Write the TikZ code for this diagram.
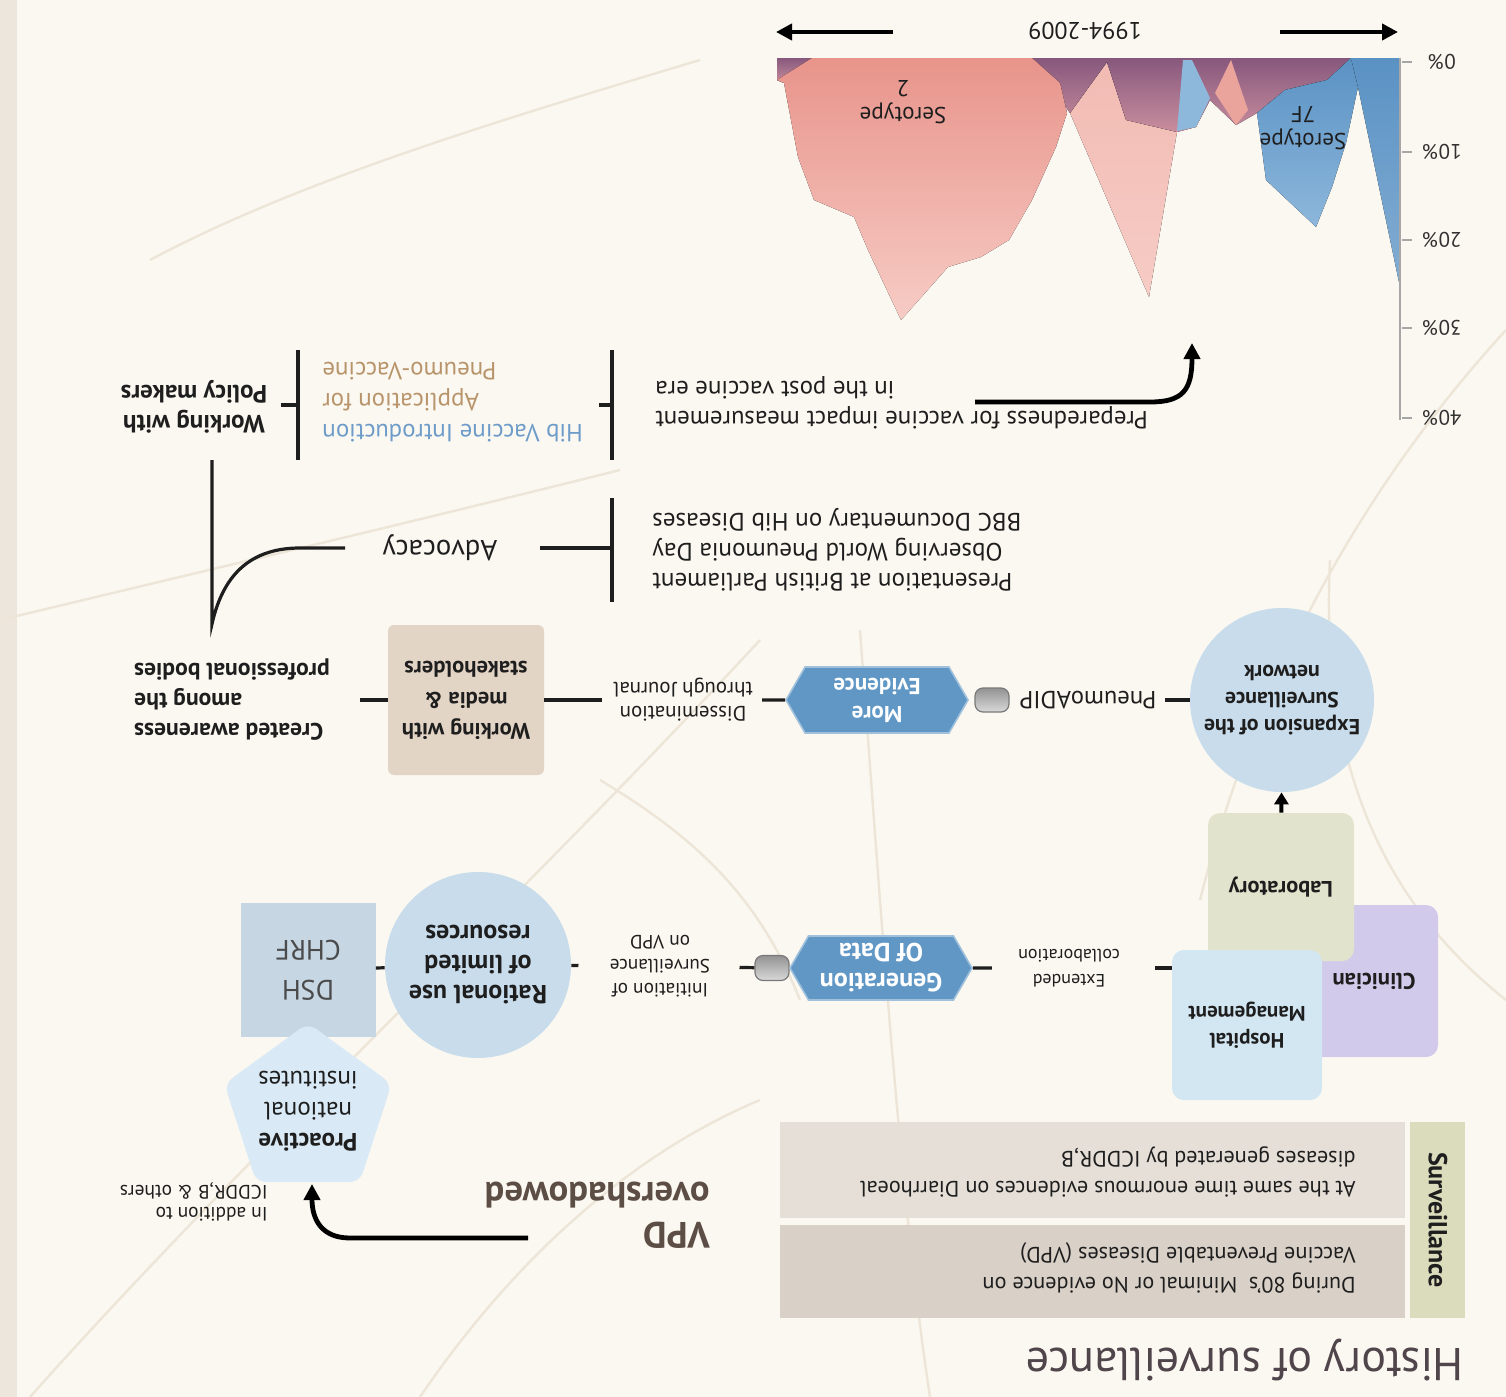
\documentclass[tikz,border=0pt]{standalone}
\usepackage{fontspec}
\setmainfont{PT Sans}
\usetikzlibrary{shapes.geometric,shapes.symbols,arrows.meta}
\definecolor{bgc}{HTML}{FBF8F1}
\definecolor{stripc}{HTML}{ECE6DC}
\definecolor{curvec}{HTML}{EDE6D8}
\definecolor{graybox1}{HTML}{E5DFD7}
\definecolor{graybox2}{HTML}{D9D1C8}
\definecolor{survc}{HTML}{DBDCBC}
\definecolor{titlec}{HTML}{4F454B}
\definecolor{vpdc}{HTML}{5C4D45}
\definecolor{pentc}{HTML}{D9EAF6}
\definecolor{dshc}{HTML}{C6D6E3}
\definecolor{circc}{HTML}{C8DCEB}
\definecolor{hexc}{HTML}{6097C5}
\definecolor{hospc}{HTML}{D3E7F3}
\definecolor{clinc}{HTML}{D2CAEA}
\definecolor{labc}{HTML}{E2E3CC}
\definecolor{mediac}{HTML}{E3D5C6}
\definecolor{hibc}{HTML}{6E9CC9}
\definecolor{pnc}{HTML}{B8946B}
\definecolor{pinkdark}{HTML}{E8948B}
\definecolor{pinklight}{HTML}{F6CCC5}
\definecolor{purp}{HTML}{87587D}
\definecolor{mauve}{HTML}{C98E9E}
\definecolor{bluedark}{HTML}{5A92C4}
\definecolor{bluelight}{HTML}{8DB7DB}
\definecolor{inkc}{HTML}{1E1E1E}
\newcommand\myfs[2]{\fontsize{#1}{#2}\selectfont}
\begin{document}
\begin{tikzpicture}[x=0.5pt,y=-0.5pt,
  u/.style={rotate=180},
  lbl/.style={u,inner sep=1pt,text=inkc},
  conn/.style={line width=1.6pt,draw=inkc},
  bar/.style={line width=2pt,draw=inkc},
  sqbox/.style={u,rectangle,rounded corners=6pt,inner sep=2pt,text=inkc,font=\bfseries\myfs{10.5}{13.5}},
  hexbox/.style={u,signal,signal to=east and west,signal pointer angle=120,fill=hexc,draw=hexc!60!white,line width=0.8pt,
     minimum width=91pt,minimum height=32pt,inner sep=0pt,text=white,align=center},
  capsule/.style={u,rectangle,rounded corners=4pt,minimum width=17pt,minimum height=12.5pt,inner sep=0pt,
     top color=gray!85,bottom color=gray!30,draw=gray!95!black,line width=0.6pt},
  circbox/.style={u,circle,fill=circc,inner sep=1pt,text=inkc},
  tick/.style={line width=0.6pt,draw=gray!70}
]
\useasboundingbox (0,0) rectangle (1506,1397);
\fill[bgc] (0,0) rectangle (1506,1397);
\fill[stripc] (0,0) rectangle (17,1397);
% faint background curves
\begin{scope}[curvec,line width=1.2pt]
\draw (30,1397) .. controls (250,1150) and (520,900) .. (760,640);
\draw (860,630) .. controls (880,900) and (900,1200) .. (930,1397);
\draw (0,620) .. controls (250,560) and (420,520) .. (620,470);
\draw (1506,330) .. controls (1350,500) and (1250,700) .. (1200,900);
\draw (1506,1000) .. controls (1380,900) and (1320,760) .. (1330,560);
\draw (420,1397) .. controls (520,1250) and (640,1150) .. (760,1100);
\draw (150,260) .. controls (300,180) and (500,120) .. (700,60);
\draw (600,780) .. controls (700,840) and (760,900) .. (800,1000);
\end{scope}

% ================= chart =================
\fill[top color=purp,bottom color=mauve] (777,58) -- (812,58) -- (784,83) -- (777,80) -- cycle;
\fill[top color=pinklight!70!pinkdark,bottom color=pinklight] (1070,113) -- (1107,62) -- (1126,120) -- (1177,132) -- (1149,297) -- cycle;
\fill[top color=purp,bottom color=mauve] (1032,58) -- (1351,58) -- (1327,80) -- (1285,90) -- (1257,113) -- (1236,125) -- (1210,100) -- (1196,127) -- (1177,132) -- (1126,120) -- (1107,62) -- (1070,113) -- cycle;
\fill[top color=pinkdark,bottom color=pinklight] (777,80) -- (784,83) -- (798,157) -- (814,200) -- (854,217) -- (868,250) -- (901,320) -- (925,293) -- (948,267) -- (981,257) -- (1009,240) -- (1032,200) -- (1056,147) -- (1067,113) -- (1060,83) -- (1032,58) -- (812,58) -- cycle;
\fill[bluelight] (1183,60) -- (1192,60) -- (1210,98) -- (1196,127) -- (1177,131) -- cycle;
\fill[pinkdark!85!white] (1215,93) -- (1231,60) -- (1248,110) -- (1236,125) -- cycle;
\fill[top color=bluedark,bottom color=bluelight] (1351,58) -- (1358,87) -- (1346,143) -- (1332,187) -- (1316,227) -- (1266,180) -- (1257,113) -- (1285,90) -- (1327,80) -- cycle;
\fill[top color=bluedark,bottom color=bluedark!75!white] (1351,58) -- (1400,58) -- (1400,287) -- (1358,87) -- cycle;
\draw[tick] (1400,58) -- (1400,420);
\foreach \yy/\tt in {62/0,152/10,240/20,328/30,418/40}{
  \draw[tick] (1402,\yy) -- (1412,\yy);
  \node[lbl,font=\myfs{10.5}{12},text=gray!20!inkc] (pct\tt) at (1442,\yy) {\tt\%};
}
\node[lbl,font=\myfs{11.5}{13.5},align=center] (sero2) at (903,102) {Serotype\\2};
\node[lbl,font=\myfs{11.5}{13.5},align=center] (sero7) at (1303,128) {Serotype\\7F};
\node[lbl,font=\myfs{12}{14}] (years) at (1085,31) {1994-2009};
\coordinate (arLs) at (893,32); \coordinate (arLe) at (776,32);
\coordinate (arRs) at (1280,32); \coordinate (arRe) at (1398,32);
\draw[line width=2.2pt,-{Triangle[length=8pt,width=8pt]}] (arLs) -- (arLe);
\draw[line width=2.2pt,-{Triangle[length=8pt,width=8pt]}] (arRs) -- (arRe);

% ================= surveillance header =================
\fill[graybox1] (780,1122) rectangle (1405,1218);
\fill[graybox2] (780,1225) rectangle (1405,1318);
\fill[survc] (1410,1122) rectangle (1465,1318);
\node[rotate=270,inner sep=1pt,font=\bfseries\myfs{13}{15},text=inkc] (surv) at (1438,1220) {Surveillance};
\node[lbl,anchor=west,align=left,font=\myfs{11.1}{15}] (diar) at (1358,1172) {At the same time enormous evidences on Diarrhoeal\\diseases generated by ICDDR,B};
\node[lbl,anchor=west,align=left,font=\myfs{11.1}{15}] (eighty) at (1358,1268) {During 80's\ \ Minimal or No evidence on\\Vaccine Preventable Diseases (VPD)};
\node[lbl,anchor=west,align=left,font=\bfseries\myfs{18.3}{20},text=vpdc] (vpd) at (712,1215) {VPD\\overshadowed};
\node[lbl,anchor=west,align=left,font=\myfs{9.7}{11}] (inadd) at (270,1202) {In addition to\\ICDDR,B \& others};
\coordinate (vpdA) at (528,1238);
\coordinate (pentB) at (312,1184);

% ================= row 3 =================
\node[u,rectangle,fill=dshc,minimum width=67.5pt,minimum height=67pt,inner sep=0pt,font=\myfs{14}{20},text=inkc!80!white,align=center] (dsh) at (308,970) {DSH\\CHRF};
\node[u,regular polygon,regular polygon sides=5,shape border rotate=180,fill=pentc,minimum size=88pt,rounded corners=5pt,inner sep=0pt,
      align=center,font=\myfs{12.5}{15.5},text=inkc] (pent) at (308,1111) {\bfseries Proactive\\national\\institutes};
\node[circbox,minimum size=93pt,align=center,font=\bfseries\myfs{13}{15}] (rat) at (478,965) {Rational use\\of limited\\resources};
\node[lbl,align=center,font=\myfs{9.6}{12}] (init) at (660,966) {Initiation of\\Surveillance\\on VPD};
\node[capsule] (cap1) at (772,968) {};
\node[hexbox,font=\bfseries\myfs{13}{15}] (gen) at (881,968) {Generation\\Of Data};
\node[lbl,align=center,font=\myfs{9}{12.5}] (ext) at (1069,968) {Extended\\collaboration};
\node[sqbox,fill=clinc,minimum width=64pt,minimum height=76pt,font=\bfseries\myfs{11.3}{13.5}] (clin) at (1374,981) {Clinician};
\node[sqbox,fill=labc,minimum width=73pt,minimum height=74pt,font=\bfseries\myfs{11.2}{13.5}] (lab) at (1281,887) {Laboratory};
\node[sqbox,fill=hospc,minimum width=75pt,minimum height=75pt,align=center] (hosp) at (1247,1025) {Hospital\\Management};

\draw[conn] (dsh) -- (rat);
\draw[conn,shorten >=14.5pt] (rat) -- (init);
\draw[conn,shorten <=13.5pt] (init) -- (cap1);
\draw[conn,shorten >=12pt] (gen) -- (ext);
\draw[conn,shorten <=16.5pt] (ext) -- (ext -| hosp.east);

% ================= row 2 =================
\node[circbox,minimum size=92pt,align=center,font=\bfseries\myfs{10.9}{13.3}] (exp) at (1282,700) {Expansion of the\\Surveillance\\network};
\draw[line width=2pt,-{Triangle[length=6pt,width=7pt]}] (lab) -- (exp);
\node[lbl,font=\myfs{12.3}{14}] (pneu) at (1088,700) {PneumoADIP};
\node[capsule,minimum height=12pt] (cap2) at (992,700) {};
\node[hexbox,minimum height=33pt,font=\bfseries\myfs{11.5}{14}] (more) at (877,700) {More\\Evidence};
\node[lbl,align=center,font=\myfs{10.4}{12}] (diss) at (683,700) {Dissemination\\through Journal};
\node[u,rectangle,rounded corners=3pt,fill=mediac,minimum width=78pt,minimum height=75pt,inner sep=1pt,align=center,
      font=\bfseries\myfs{11.3}{15.5},text=inkc] (media) at (466,700) {Working with\\media \&\\stakeholders};
\node[lbl,align=right,font=\bfseries\myfs{11.8}{15}] (aware) at (232,700) {Created awareness\\among the\\professional bodies};
\draw[conn,shorten >=3pt] (exp) -- (pneu);
\draw[conn,shorten >=3.5pt] (more) -- (diss);
\draw[conn,shorten <=4.5pt] (diss) -- (media);
\draw[conn,shorten >=14pt] (media) -- (aware);

% ================= advocacy & policy =================
\node[lbl,font=\myfs{14.4}{16}] (adv) at (440,548) {Advocacy};
\coordinate (bar1t) at (612,498); \coordinate (bar1b) at (612,602);
\draw[bar] (bar1t) -- (bar1b);
\draw[conn,shorten <=20pt] (adv) -- (adv -| bar1t);
\node[lbl,anchor=east,align=right,font=\myfs{12.5}{15}] (pres) at (650,550) {Presentation at British Parliament\\Observing World Pneumonia Day\\BBC Documentary on Hib Diseases};
\coordinate (cvTop) at (212,460); \coordinate (cvBot) at (212,624);
\coordinate (advL) at (345,548);
\draw[conn] (cvTop) -- (cvBot) .. controls (224,570) and (255,548) .. (300,548) -- (advL);

\coordinate (bar2t) at (612,350); \coordinate (bar2b) at (612,460);
\draw[bar] (bar2t) -- (bar2b);
\draw[conn] (599,405) -- (612,405);
\node[lbl,anchor=east,align=right,font=\myfs{12.4}{15}] (prep) at (653,403) {Preparedness for vaccine impact measurement\\in the post vaccine era};
\coordinate (prepA) at (975,402); \coordinate (chartPt) at (1192,343);
\draw[line width=2.4pt,-{Triangle[length=8pt,width=8pt]}] (prepA) -- (1150,402) .. controls (1183,402) and (1192,390) .. (chartPt);

\node[lbl,anchor=east,align=right,font=\myfs{12.4}{15.5}] (hib) at (320,402) {\textcolor{hibc}{Hib Vaccine Introduction}\\\textcolor{pnc}{Application for}\\\textcolor{pnc}{Pneumo-Vaccine}};
\coordinate (bar3t) at (298,350); \coordinate (bar3b) at (298,460);
\draw[bar] (bar3t) -- (bar3b);
\draw[conn] (281,405) -- (298,405);
\node[lbl,align=center,font=\bfseries\myfs{12.5}{15}] (policy) at (194,407) {Working with\\Policy makers};

\draw[line width=2.4pt,-{Triangle[length=8pt,width=8pt]}] (vpdA) -- (350,1238) .. controls (322,1238) and (312,1220) .. (pentB);

% title
\node[lbl,font=\myfs{23}{26},text=titlec] (title) at (1245,1360) {History of surveillance};
\end{tikzpicture}
\end{document}
